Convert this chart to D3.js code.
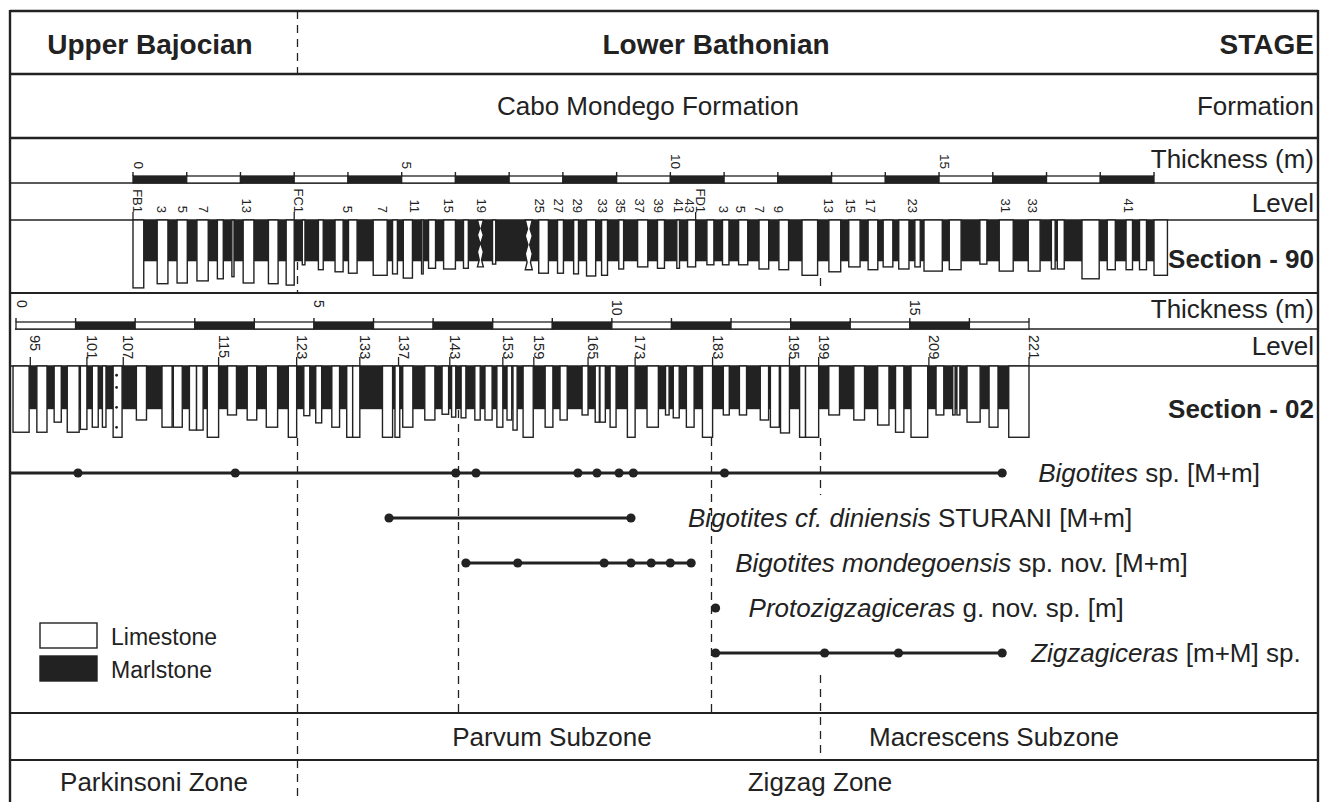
<!DOCTYPE html>
<html>
<head>
<meta charset="utf-8">
<script src="https://cdn.jsdelivr.net/npm/d3@7"></script>
<style>
  body { margin: 0; background: #fff; }
  svg { display: block; }
  text { font-family: "Liberation Sans", Arial, Helvetica, sans-serif; fill: #222; }
</style>
</head>
<body>
<svg id="chart" width="1327" height="802"></svg>
<script>
// ---------- Data ----------
const stageNames = ["Upper Bajocian", "Lower Bathonian"];
const formationName = "Cabo Mondego Formation";
const subzoneNames = ["Parvum Subzone", "Macrescens Subzone"];
const zoneNames = ["Parkinsoni Zone", "Zigzag Zone"];
const rowTitles = ["STAGE", "Formation", "Thickness (m)", "Level", "Section - 90", "Thickness (m)", "Level", "Section - 02"];

// Section 90 (thickness in metres)
const s90Length = 19;
const s90TickLabels = [0, 5, 10, 15];
const s90Levels = ["FB1","3","5","7","13","FC1","5","7","11","15","19","25","27","29","33","35","37","39","41","43","FD1","3","5","7","9","13","15","17","23","31","33","41"];
const s90LevelAt = [0,0.45,0.84,1.23,2.03,3.0,3.91,4.56,5.16,5.79,6.41,7.49,7.83,8.18,8.66,8.98,9.35,9.69,10.06,10.27,10.47,10.90,11.22,11.57,11.92,12.86,13.27,13.64,14.42,16.15,16.66,18.45];
const s90TickedLevels = ["FB1", "FC1", "FD1"];
const s90Extent = [0, 19.25];
const s90MarlRelief = 5.9;
// limestone beds: [base m, top m, weathering relief, texture]
const s90Beds = [
  [0.00,0.20,9.7],[0.45,0.65,9.1],[0.82,1.01,9.0],[1.19,1.40,8.7],[1.57,1.68,8.4],[1.84,1.88,8.1],
  [2.05,2.25,9.0],[2.52,2.70,9.1],[2.85,3.00,9.3],[3.15,3.20,6.4],[3.45,3.54,7.1],[3.76,3.91,7.4],
  [4.01,4.17,7.6],[4.47,4.73,7.9],[4.83,4.92,7.7],[5.03,5.20,8.3],[5.37,5.40,7.7],[5.50,5.63,6.9],
  [5.78,6.00,7.0],[6.15,6.24,6.9],[6.41,6.52,6.7,"nodular"],[6.69,6.75,6.3],[7.30,7.43,7.1,"nodular"],
  [7.55,7.73,7.6],[7.90,8.01,7.6],[8.20,8.29,7.7],[8.44,8.61,8.0],[8.72,8.83,7.9],[9.04,9.13,7.0],
  [9.39,9.58,6.7],[9.76,9.89,6.9],[10.12,10.17,6.9],[10.32,10.47,6.7],[10.68,10.81,6.4],[10.97,11.09,6.4],
  [11.27,11.44,6.4],[11.65,11.83,7.0],[12.02,12.20,7.1],[12.45,12.74,7.9],[12.95,13.17,7.4],[13.32,13.53,6.7],
  [13.68,13.86,7.1],[13.96,14.14,6.7],[14.25,14.44,7.0],[14.55,14.65,6.7],[14.72,15.06,7.3],[15.19,15.41,7.1],
  [15.76,15.89,6.3],[16.12,16.38,7.3],[16.66,16.88,7.3],[17.09,17.16,7.0],[17.20,17.33,7.0],[17.66,17.98,8.4],
  [18.13,18.28,7.1],[18.48,18.60,7.1],[18.73,18.86,7.1],[19.00,19.25,7.9]
];

// Section 02 (thickness in metres)
const s02Length = 17;
const s02TickLabels = [0, 5, 10, 15];
const s02Levels = ["95","101","107","115","123","133","137","143","153","159","165","173","183","195","199","209","221"];
const s02LevelAt = [0.24,1.19,1.80,3.40,4.71,5.77,6.42,7.28,8.17,8.69,9.60,10.39,11.69,12.98,13.47,15.32,17.0];
const s02Extent = [-0.05, 17.0];
const s02MarlRelief = 6.0;
const s02Beds = [
  [-0.05,0.22,9.2],[0.35,0.52,9.2],[0.64,0.76,7.8],[0.86,1.06,9.2],[1.08,1.19,8.8],[1.28,1.38,8.5],
  [1.45,1.51,8.5],[1.63,1.78,9.9,"chert"],[2.02,2.19,7.5],[2.45,2.62,8.5],[2.64,2.79,8.5],[2.91,3.03,8.9],
  [3.03,3.14,8.9],[3.21,3.40,9.9],[3.55,3.70,6.8],[3.88,4.04,7.5],[4.20,4.39,8.5],[4.57,4.71,9.9],
  [4.83,4.93,6.9],[5.03,5.13,7.9],[5.30,5.43,8.5],[5.55,5.65,9.9],[5.65,5.77,9.9],[6.15,6.32,9.9],
  [6.36,6.44,9.9],[6.49,6.66,8.5],[6.86,7.03,7.5],[7.15,7.26,6.7],[7.31,7.38,7.1],[7.47,7.55,7.2],
  [7.70,7.79,7.5],[7.87,7.99,7.5],[8.07,8.17,8.5],[8.24,8.32,7.5],[8.34,8.41,8.9],[8.51,8.68,9.9],
  [8.88,9.01,8.5],[9.13,9.25,7.5],[9.50,9.60,6.8],[9.72,9.79,7.8],[9.80,9.89,7.8],[9.97,10.07,8.5],
  [10.26,10.39,9.9],[10.59,10.78,8.5],[10.90,10.96,6.8],[11.03,11.13,7.2],[11.25,11.38,8.5],[11.52,11.69,9.9],
  [11.87,11.97,6.8],[12.14,12.26,6.8],[12.49,12.63,7.5],[12.66,12.81,8.5],[12.83,12.98,9.3],[13.15,13.25,9.9],
  [13.25,13.47,9.9],[13.64,13.82,6.8],[14.06,14.24,7.5],[14.46,14.65,8.2],[14.76,14.90,9.2],[15.02,15.30,9.9],
  [15.44,15.57,6.8],[15.72,15.76,6.8],[15.79,15.84,6.8],[15.96,16.18,7.8],[16.33,16.48,8.5],[16.66,17.00,9.9]
];

// Biostratigraphic ranges, positions in Section 02 metres
const taxonItalic = ["Bigotites", "Bigotites cf. diniensis", "Bigotites mondegoensis", "Protozigzagiceras", "Zigzagiceras"];
const taxonRest = [" sp. [M+m]", " STURANI [M+m]", " sp. nov. [M+m]", " g. nov. sp. [m]", " [m+M] sp."];
const taxonOccurrences = [
  [1.04, 3.68, 7.38, 7.72, 9.43, 9.75, 10.12, 10.36, 11.89, 16.55],
  [6.26, 10.32],
  [7.55, 8.42, 9.87, 10.32, 10.66, 10.98, 11.33],
  [11.74],
  [11.74, 13.57, 14.81, 16.55]
];
const taxonRangeOpenBelow = [true, false, false, false, false];

// Zone / stage boundaries, Section 02 metres
const boundaries = [4.71, 7.42, 11.67, 13.50];

const legendItems = ["Limestone", "Marlstone"];

// ---------- Layout ----------
const ink = "#222";
const frame = { left: 10, right: 1318, top: 11, bottom: 802 };
const lineY = { stage: 74, formation: 138, thick90: 183, level90: 220, sec90: 293, thick02: 329, level02: 366, ranges: 713, subzone: 760 };
const rightX = 1314;
const labelGap = [36, 57, 44, 33, 29];
const boundarySegments = [
  [[11, 74], [262, 293], [438, 802]],
  [[410, 713]],
  [[438, 713]],
  [[278, 290], [438, 495], [675, 760]]
];

const svg = d3.select("#chart");

// ---------- Scales ----------
const x90 = d3.scaleLinear().domain([0, s90Length]).range([133, 1154]);
const x02 = d3.scaleLinear().domain([0, s02Length]).range([16, 1029]);
const y90 = d3.scaleLinear().domain([0, 10]).range([lineY.level90, 290]);
const y02 = d3.scaleLinear().domain([0, 10]).range([lineY.level02, 438]);
const yTaxa = d3.scalePoint().domain(taxonItalic).range([473, 653]);

// ---------- Grid lines ----------
const grid = svg.append("g").attr("stroke", ink).attr("fill", "none");
function hline(y, w, x0 = frame.left, x1 = frame.right) {
  grid.append("line").attr("x1", x0).attr("x2", x1).attr("y1", y).attr("y2", y).attr("stroke-width", w);
}
hline(frame.top, 2.4);
hline(lineY.stage, 2.4);
hline(lineY.formation, 2.4);
hline(lineY.thick90, 1.4);
hline(lineY.level90, 1.4);
hline(lineY.sec90, 2.2);
hline(lineY.thick02, 1.4, 15);
hline(lineY.level02, 1.4);
hline(lineY.ranges, 2.2);
hline(lineY.subzone, 1.8);
grid.append("line").attr("x1", frame.left).attr("x2", frame.left).attr("y1", frame.top - 1).attr("y2", frame.bottom).attr("stroke-width", 2.4);
grid.append("line").attr("x1", frame.right).attr("x2", frame.right).attr("y1", frame.top - 1).attr("y2", frame.bottom).attr("stroke-width", 2.4);

// ---------- Header texts ----------
function label(x, y, txt, opts = {}) {
  return svg.append("text").attr("x", x).attr("y", y)
    .attr("text-anchor", opts.anchor || "middle")
    .attr("font-size", opts.size || 26)
    .attr("font-weight", opts.bold ? "bold" : null)
    .text(txt);
}
label(150, 54, stageNames[0], { size: 28, bold: true });
label(716, 54, stageNames[1], { size: 28, bold: true });
label(rightX, 54, rowTitles[0], { size: 28, bold: true, anchor: "end" });
label(648, 115, formationName);
label(rightX, 115, rowTitles[1], { anchor: "end" });
label(rightX, 168, rowTitles[2], { anchor: "end" });
label(rightX, 212, rowTitles[3], { anchor: "end" });
label(rightX, 268, rowTitles[4], { bold: true, anchor: "end" });
label(rightX, 318, rowTitles[5], { anchor: "end" });
label(rightX, 355, rowTitles[6], { anchor: "end" });
label(rightX, 418, rowTitles[7], { bold: true, anchor: "end" });

label(552, 746, subzoneNames[0]);
label(994, 746, subzoneNames[1]);
label(154, 791, zoneNames[0]);
label(820, 791, zoneNames[1]);

// ---------- Thickness scale bars ----------
function scaleBar(x, len, barBottom, darkParity, tickLabels, labelY, labelAnchor, fontSize) {
  const g = svg.append("g");
  const barTop = barBottom - 7;
  g.selectAll("rect").data(d3.range(len)).join("rect")
    .attr("x", d => x(d)).attr("width", d => x(d + 1) - x(d))
    .attr("y", barTop).attr("height", 7)
    .attr("fill", d => d % 2 === darkParity ? ink : "#fff")
    .attr("stroke", ink).attr("stroke-width", 1.3);
  g.selectAll("line").data(d3.range(len + 1)).join("line")
    .attr("x1", d => x(d)).attr("x2", d => x(d))
    .attr("y1", barTop - 4).attr("y2", barTop)
    .attr("stroke", ink).attr("stroke-width", 1.4);
  g.selectAll("text").data(tickLabels).join("text")
    .attr("transform", d => `translate(${x(d) + 0.5},${labelY}) rotate(90)`)
    .attr("text-anchor", labelAnchor).attr("font-size", fontSize)
    .text(d => d);
}
scaleBar(x90, s90Length, lineY.thick90, 0, s90TickLabels, 169, "end", 13.5);
scaleBar(x02, s02Length, lineY.thick02, 1, s02TickLabels, 300, "start", 14);

// ---------- Level labels ----------
const lv90 = svg.append("g");
s90Levels.forEach((name, i) => {
  const x = x90(s90LevelAt[i]);
  lv90.append("text").attr("transform", `translate(${x},213) rotate(90)`)
    .attr("text-anchor", "end").attr("font-size", 13).text(name);
  if (s90TickedLevels.includes(name)) {
    lv90.append("line").attr("x1", x).attr("x2", x).attr("y1", 212).attr("y2", lineY.level90)
      .attr("stroke", ink).attr("stroke-width", 1.3);
  }
});
const lv02 = svg.append("g");
s02Levels.forEach((name, i) => {
  const x = x02(s02LevelAt[i]);
  lv02.append("text").attr("transform", `translate(${x},335) rotate(90)`)
    .attr("text-anchor", "start").attr("font-size", 14.5).text(name);
  lv02.append("line").attr("x1", x).attr("x2", x).attr("y1", 357).attr("y2", lineY.level02)
    .attr("stroke", ink).attr("stroke-width", 1.3);
});

// ---------- Lithological columns ----------
function nodularPath(x0, x1, y0, y1) {
  const h = y1 - y0;
  const f = [0, 0.18, 0.32, 0.5, 0.68, 0.85, 1];
  const inset = [0, 2.2, 0, 2.6, 0, 1.8, 0];
  const left = f.map((t, i) => [x0 + inset[i], y0 + t * h]);
  const right = f.map((t, i) => [x1 - inset[i], y0 + t * h]).reverse();
  return d3.line()(left.concat(right)) + "Z";
}
function column(x, y, beds, extent, marlRelief) {
  const g = svg.append("g");
  g.append("rect")
    .attr("x", x(extent[0])).attr("width", x(extent[1]) - x(extent[0]))
    .attr("y", y(0)).attr("height", y(marlRelief) - y(0))
    .attr("fill", ink);
  beds.forEach(b => {
    const x0 = x(b[0]), x1 = x(b[1]), y0 = y(0), y1 = y(b[2]);
    if (b[3] === "nodular") {
      g.append("path").attr("d", nodularPath(x0, x1, y0, y1))
        .attr("fill", "#fff").attr("stroke", ink).attr("stroke-width", 1.4);
    } else {
      g.append("rect").attr("x", x0).attr("width", x1 - x0).attr("y", y0).attr("height", y1 - y0)
        .attr("fill", "#fff").attr("stroke", ink).attr("stroke-width", 1.4);
    }
    if (b[3] === "chert") {
      [0.13, 0.3, 0.58, 0.86].forEach(t => {
        g.append("circle").attr("cx", (x0 + x1) / 2 - 1).attr("cy", y0 + t * (y1 - y0)).attr("r", 1.4).attr("fill", ink);
      });
    }
  });
}
column(x90, y90, s90Beds, s90Extent, s90MarlRelief);
column(x02, y02, s02Beds, s02Extent, s02MarlRelief);

// ---------- Boundaries ----------
const bnd = svg.append("g").attr("stroke", ink).attr("stroke-width", 1.3).attr("stroke-dasharray", "8,6");
boundaries.forEach((m, i) => {
  const x = Math.round(x02(m)) + 0.5;
  boundarySegments[i].forEach(s => {
    bnd.append("line").attr("x1", x).attr("x2", x).attr("y1", s[0]).attr("y2", s[1]);
  });
});

// ---------- Range chart ----------
const rg = svg.append("g");
taxonItalic.forEach((name, i) => {
  const y = yTaxa(name);
  const occ = taxonOccurrences[i];
  const xs = occ.map(x02);
  const xStart = taxonRangeOpenBelow[i] ? frame.left : d3.min(xs);
  const xEnd = d3.max(xs);
  if (xEnd > xStart) {
    rg.append("line").attr("x1", xStart).attr("x2", xEnd).attr("y1", y).attr("y2", y)
      .attr("stroke", ink).attr("stroke-width", 2.8);
  }
  rg.selectAll(null).data(occ).join("circle")
    .attr("cx", d => x02(d)).attr("cy", y).attr("r", 4.6).attr("fill", ink);
  const t = rg.append("text").attr("x", xEnd + labelGap[i]).attr("y", y + 9).attr("font-size", 26);
  t.append("tspan").attr("font-style", "italic").text(name);
  t.append("tspan").text(taxonRest[i]);
});

// ---------- Legend ----------
const lg = svg.append("g");
legendItems.forEach((name, i) => {
  const y = 623 + i * 33;
  lg.append("rect").attr("x", 40).attr("y", y).attr("width", 57).attr("height", 25)
    .attr("fill", i === 0 ? "#fff" : ink).attr("stroke", ink).attr("stroke-width", 1.4);
  lg.append("text").attr("x", 111).attr("y", y + 22).attr("font-size", 23).text(name);
});
</script>
</body>
</html>
